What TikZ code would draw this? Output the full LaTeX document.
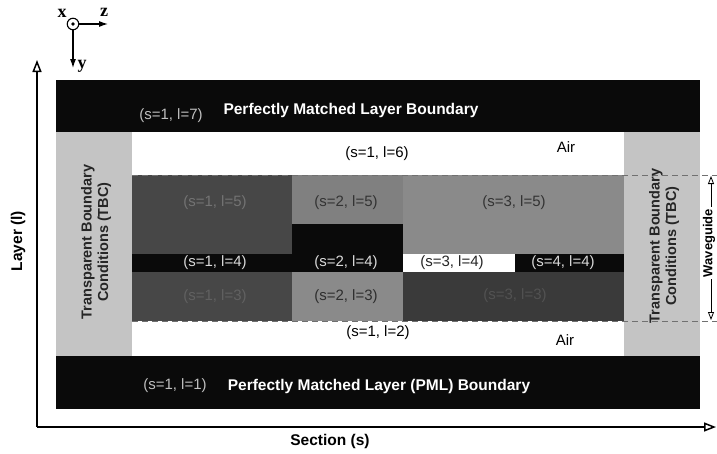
\documentclass[tikz,border=0pt]{standalone}
\usepackage{fontspec}
\setmainfont{Liberation Sans}
\newfontfamily\axisfont{Liberation Serif}
\usetikzlibrary{arrows.meta}

\definecolor{pmlblack}{HTML}{0A0A0A}
\definecolor{tbcgray}{HTML}{C4C4C4}
\definecolor{darkcore}{HTML}{474747}
\definecolor{darkclad}{HTML}{3A3A3A}
\definecolor{midgray}{HTML}{808080}
\definecolor{lightgray}{HTML}{8A8A8A}
\definecolor{dashgray}{HTML}{707070}

\tikzset{
  lbl/.style={font=\fontsize{15}{17}\selectfont, inner sep=0pt},
  dimlbl/.style={lbl, text=#1},
  boldlbl/.style={font=\fontsize{15.5}{17}\selectfont\bfseries, inner sep=0pt},
  tbclbl/.style={font=\fontsize{14.5}{16.5}\selectfont\bfseries, text=black!85,
    align=center, rotate=90, inner sep=0pt},
  interface/.style={dashgray, dash pattern=on 6pt off 4pt, line width=0.8pt},
  axisline/.style={line width=1.7pt, -{Triangle[open, length=12pt, width=9pt, line width=1.5pt]}},
  coordarrow/.style={line width=1.1pt, -{Latex[length=9pt, width=6pt]}},
  coordlbl/.style={font=\axisfont\fontsize{18}{18}\selectfont\bfseries, inner sep=0pt},
}

\begin{document}
\begin{tikzpicture}[x=1pt, y=-1pt]
\useasboundingbox (0,0) rectangle (717,453);

% PML boundaries (top and bottom)
\fill[pmlblack] (56,80) rectangle (700,132);
\fill[pmlblack] (56,356) rectangle (700,409);

% transparent boundary columns
\fill[tbcgray] (56,132) rectangle (132,356);
\fill[tbcgray] (624,132) rectangle (700,356);

% layer 5
\fill[darkcore] (132,175) rectangle (292,254);
\fill[midgray] (292,175) rectangle (403,224);
\fill[pmlblack] (292,224) rectangle (403,272);
\fill[lightgray] (403,175) rectangle (624,254);
% layer 4
\fill[pmlblack] (132,254) rectangle (292,272);
\fill[white] (403,254) rectangle (515,272);
\fill[pmlblack] (515,254) rectangle (624,272);
% layer 3
\fill[darkcore] (132,272) rectangle (292,321);
\fill[lightgray] (292,272) rectangle (403,321);
\fill[darkclad] (403,272) rectangle (624,321);

% waveguide interfaces
\draw[interface] (132,175) -- (717,175);
\draw[interface] (132,321) -- (717,321);

% section labels
\node[dimlbl=black!25] (l7) at (171,116) {(s=1, l=7)};
\node[boldlbl, text=white] (pmltop) at (351,110) {Perfectly Matched Layer Boundary};
\node[lbl] (l6) at (377,154) {(s=1, l=6)};
\node[lbl] (airtop) at (566,147) {Air};

\node[dimlbl=black!55] (s1l5) at (215,203) {(s=1, l=5)};
\node[dimlbl=black!80] (s2l5) at (346,203) {(s=2, l=5)};
\node[dimlbl=black!80] (s3l5) at (514,203) {(s=3, l=5)};

\node[dimlbl=black!15] (s1l4) at (215,263) {(s=1, l=4)};
\node[dimlbl=black!15] (s2l4) at (346,263) {(s=2, l=4)};
\node[dimlbl=black!85] (s3l4) at (452,263) {(s=3, l=4)};
\node[dimlbl=black!15] (s4l4) at (563,263) {(s=4, l=4)};

\node[dimlbl=black!62] (s1l3) at (215,297) {(s=1, l=3)};
\node[dimlbl=black!82] (s2l3) at (346,297) {(s=2, l=3)};
\node[dimlbl=black!68] (s3l3) at (515,296) {(s=3, l=3)};

\node[lbl] (l2) at (378,333) {(s=1, l=2)};
\node[lbl] (airbot) at (565,340) {Air};

\node[dimlbl=black!25] (l1) at (175,386) {(s=1, l=1)};
\node[boldlbl, text=white] (pmlbot) at (379,386) {Perfectly Matched Layer (PML) Boundary};

% boundary condition labels
\node[tbclbl] (tbcl) at (96,242) {Transparent Boundary\\Conditions (TBC)};
\node[tbclbl] (tbcr) at (664,246) {Transparent Boundary\\Conditions (TBC)};

% waveguide extent marker
\coordinate (wgtop) at (711,176);
\coordinate (wgbot) at (711,320);
\draw[line width=0.8pt, {Triangle[open, length=8pt, width=6pt]}-{Triangle[open, length=8pt, width=6pt]}] (wgtop) -- (wgbot);
\node[font=\fontsize{13}{13}\selectfont\bfseries, rotate=90, fill=white, inner xsep=2pt, inner ysep=0.5pt] (wg) at (709,243) {Waveguide};

% layer / section axes
\coordinate (origin) at (37,427);
\coordinate (ltip) at (37,60);
\coordinate (stip) at (716,427);
\draw[axisline] (origin) -- (ltip);
\draw[axisline] (origin) -- (stip);
\node[boldlbl, rotate=90] (laxis) at (18,241) {Layer (l)};
\node[boldlbl] (saxis) at (330,441) {Section (s)};

% coordinate system
\node[circle, draw, line width=1.1pt, minimum size=11.5pt, inner sep=0pt] (xdir) at (73,24) {};
\fill (xdir.center) circle (1.8pt);
\coordinate (ztip) at (108,24);
\coordinate (ytip) at (73,68);
\draw[coordarrow] (xdir.east) -- (ztip);
\draw[coordarrow] (xdir.south) -- (ytip);
\node[coordlbl] (xl) at (62,13) {x};
\node[coordlbl] (zl) at (104,12) {z};
\node[coordlbl] (yl) at (82,66) {y};
\end{tikzpicture}
\end{document}
